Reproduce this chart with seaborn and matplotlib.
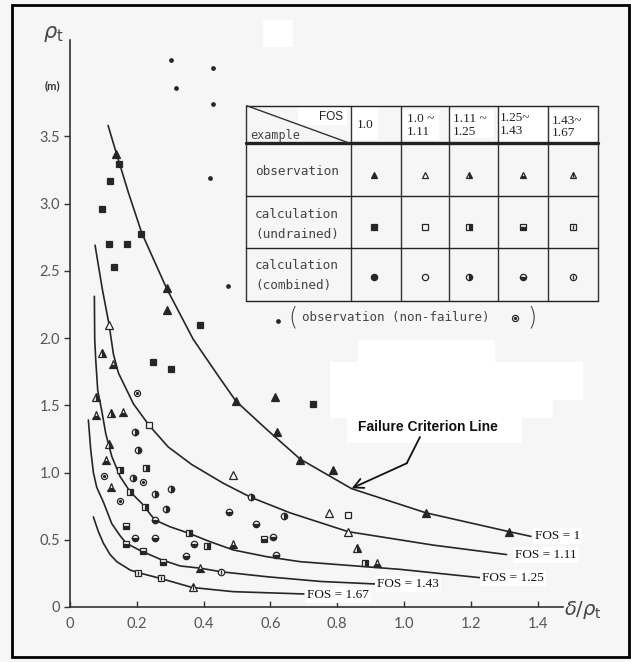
import matplotlib
matplotlib.use("Agg")
import matplotlib.pyplot as plt
import matplotlib.patches as mpatches
import seaborn as sns
import pandas as pd

# ---- curves of constant FOS ----
fos_names = ["FOS = 1", "FOS = 1.11", "FOS = 1.25", "FOS = 1.43", "FOS = 1.67"]

fos1_x = [0.114, 0.138, 0.175, 0.215, 0.289, 0.369, 0.449, 0.497, 0.589, 0.689, 0.843, 1.066, 1.315, 1.38]
fos1_y = [3.58, 3.38, 3.08, 2.78, 2.37, 1.99, 1.70, 1.53, 1.32, 1.10, 0.88, 0.70, 0.56, 0.525]

fos111_x = [0.075, 0.097, 0.117, 0.130, 0.145, 0.19, 0.237, 0.294, 0.364, 0.459, 0.541, 0.659, 0.833, 1.088, 1.307]
fos111_y = [2.69, 2.36, 2.10, 1.88, 1.74, 1.51, 1.35, 1.19, 1.06, 0.92, 0.816, 0.70, 0.56, 0.46, 0.39]

fos125_x = [0.073, 0.074, 0.077, 0.083, 0.095, 0.107, 0.125, 0.15, 0.18, 0.215, 0.254, 0.299, 0.356, 0.419, 0.489, 0.589, 0.689, 0.988, 1.228]
fos125_y = [2.31, 1.99, 1.84, 1.61, 1.46, 1.29, 1.12, 0.97, 0.857, 0.77, 0.647, 0.597, 0.548, 0.486, 0.424, 0.374, 0.337, 0.28, 0.218]

fos143_x = [0.055, 0.062, 0.07, 0.08, 0.10, 0.125, 0.15, 0.168, 0.21, 0.275, 0.33, 0.392, 0.452, 0.59, 0.75, 0.916]
fos143_y = [1.39, 1.17, 1.00, 0.89, 0.78, 0.62, 0.53, 0.475, 0.42, 0.35, 0.305, 0.288, 0.262, 0.225, 0.19, 0.171]

fos167_x = [0.07, 0.085, 0.10, 0.12, 0.14, 0.18, 0.205, 0.27, 0.366, 0.489, 0.70]
fos167_y = [0.67, 0.56, 0.474, 0.39, 0.337, 0.275, 0.255, 0.213, 0.145, 0.114, 0.097]

# label anchor (left end of text) for each curve
label_x = [1.392, 1.332, 1.234, 0.919, 0.710]
label_y = [0.53, 0.387, 0.216, 0.171, 0.089]

# ---- data points ----
# FOS = 1.0
obs_10_x = [0.138, 0.289, 0.289, 0.496, 0.614, 0.619, 0.689, 0.788, 1.066, 1.315]
obs_10_y = [3.37, 2.37, 2.21, 1.53, 1.56, 1.30, 1.09, 1.02, 0.70, 0.56]
und_10_x = [0.147, 0.120, 0.097, 0.213, 0.117, 0.170, 0.133, 0.389, 0.249, 0.302, 0.727]
und_10_y = [3.29, 3.17, 2.96, 2.77, 2.70, 2.70, 2.53, 2.10, 1.82, 1.77, 1.51]
# FOS 1.0 ~ 1.11
obs_111_x = [0.117, 0.489, 0.776, 0.833]
obs_111_y = [2.10, 0.98, 0.70, 0.56]
und_111_x = [0.237, 0.833]
und_111_y = [1.35, 0.684]
# FOS 1.11 ~ 1.25
obs_125_x = [0.095, 0.078, 0.123, 0.116, 0.86]
obs_125_y = [1.89, 1.56, 1.44, 1.21, 0.436]
und_125_x = [0.150, 0.228, 0.180, 0.225, 0.356, 0.409, 0.883]
und_125_y = [1.02, 1.03, 0.857, 0.74, 0.548, 0.456, 0.33]
com_125_x = [0.195, 0.205, 0.190, 0.302, 0.254, 0.286, 0.541, 0.641]
com_125_y = [1.30, 1.17, 0.957, 0.88, 0.84, 0.73, 0.815, 0.677]
# FOS 1.25 ~ 1.43
obs_143_x = [0.130, 0.078, 0.158, 0.108, 0.123, 0.489, 0.389, 0.92]
obs_143_y = [1.81, 1.43, 1.45, 1.09, 0.89, 0.47, 0.29, 0.33]
und_143_x = [0.168, 0.167, 0.219, 0.279, 0.581]
und_143_y = [0.60, 0.47, 0.42, 0.337, 0.503]
com_143_x = [0.254, 0.195, 0.254, 0.372, 0.346, 0.477, 0.557, 0.609, 0.617]
com_143_y = [0.647, 0.51, 0.51, 0.466, 0.38, 0.71, 0.615, 0.52, 0.387]
# FOS 1.43 ~ 1.67
obs_167_x = [0.367]
obs_167_y = [0.146]
und_167_x = [0.205, 0.272]
und_167_y = [0.255, 0.213]
com_167_x = [0.451]
com_167_y = [0.262]
# non-failure observations
nf_dot_x = [0.301, 0.429, 0.316, 0.429, 0.419, 0.472]
nf_dot_y = [4.07, 4.01, 3.86, 3.74, 3.19, 2.39]
nf_circ_x = [0.202, 0.103, 0.218, 0.150]
nf_circ_y = [1.59, 0.976, 0.927, 0.788]

# table text
fos_headers = ["1.0", "1.0 ~\n1.11", "1.11 ~\n1.25", "1.25~\n1.43", "1.43~\n1.67"]
row_names = ["observation", "calculation\n(undrained)", "calculation\n(combined)"]

BG = "#f6f6f6"
INK = "#262626"
W, H = 631, 662

sns.set_style("ticks")
plt.rcParams["font.family"] = ["Lato", "DejaVu Sans"]

fig = plt.figure(figsize=(W / 100, H / 100), dpi=100)
fig.patch.set_facecolor(BG)

# background layer: erased (white) patches of the scan
bg = fig.add_axes([0, 0, 1, 1], zorder=0)
bg.set_xlim(0, W)
bg.set_ylim(H, 0)
bg.axis("off")
for (x0, y0, x1, y1) in [(263, 20, 293, 47), (358, 340, 495, 362), (330, 362, 583, 400),
                         (330, 400, 553, 418), (347, 418, 522, 443)]:
    bg.add_patch(mpatches.Rectangle((x0, y0), x1 - x0, y1 - y0, color="white", lw=0))

# main axes
ax = fig.add_axes([70 / W, (H - 607) / H, 493 / W, 567 / H], zorder=1)
ax.patch.set_alpha(0)
ax.set_xlim(0, 493 / 334)
ax.set_ylim(0, 567 / 134.5)

curves = pd.DataFrame({
    "x": fos1_x + fos111_x + fos125_x + fos143_x + fos167_x,
    "y": fos1_y + fos111_y + fos125_y + fos143_y + fos167_y,
    "curve": ([fos_names[0]] * len(fos1_x) + [fos_names[1]] * len(fos111_x)
              + [fos_names[2]] * len(fos125_x) + [fos_names[3]] * len(fos143_x)
              + [fos_names[4]] * len(fos167_x)),
})
sns.lineplot(data=curves, x="x", y="y", units="curve", estimator=None, sort=False,
             color=INK, lw=1.2, ax=ax, legend=False)

for name, lx, ly in zip(fos_names, label_x, label_y):
    ax.text(lx, ly, name, family="Liberation Serif", fontsize=9.5, color="#111",
            ha="left", va="center",
            bbox=dict(facecolor="white", edgecolor="none", pad=1.5), zorder=4)


def draw(axis, xs, ys, shape, fill, ms=None):
    size = {"^": 5.2, "s": 4.3, "o": 4.6}[shape] if ms is None else ms
    kw = dict(ls="none", marker=shape, ms=size, mec=INK, mew=0.9, zorder=5)
    if fill == "full":
        axis.plot(xs, ys, mfc=INK, **kw)
    elif fill == "none":
        axis.plot(xs, ys, mfc=BG, **kw)
    elif fill in ("right", "bottom"):
        axis.plot(xs, ys, mfc=INK, fillstyle=fill, markerfacecoloralt=BG, **kw)
    elif fill == "line":
        axis.plot(xs, ys, mfc=BG, **kw)
        axis.plot(xs, ys, ls="none", marker="|", ms=size * 0.75, mec=INK, mew=0.9, zorder=6)
    elif fill == "dot":
        axis.plot(xs, ys, mfc=BG, **kw)
        axis.plot(xs, ys, ls="none", marker=".", ms=2.6, mec=INK, mfc=INK, zorder=6)


draw(ax, obs_10_x, obs_10_y, "^", "full")
draw(ax, und_10_x, und_10_y, "s", "full")
draw(ax, obs_111_x, obs_111_y, "^", "none")
draw(ax, und_111_x, und_111_y, "s", "none")
draw(ax, obs_125_x, obs_125_y, "^", "right")
draw(ax, und_125_x, und_125_y, "s", "right")
draw(ax, com_125_x, com_125_y, "o", "right")
draw(ax, obs_143_x, obs_143_y, "^", "bottom")
draw(ax, und_143_x, und_143_y, "s", "bottom")
draw(ax, com_143_x, com_143_y, "o", "bottom")
draw(ax, obs_167_x, obs_167_y, "^", "line")
draw(ax, und_167_x, und_167_y, "s", "line")
draw(ax, com_167_x, com_167_y, "o", "line")
draw(ax, nf_circ_x, nf_circ_y, "o", "dot", ms=4.4)
ax.plot(nf_dot_x, nf_dot_y, ls="none", marker="o", ms=2.4, mfc=INK, mec=INK, zorder=5)

ax.set_xticks([0, 0.2, 0.4, 0.6, 0.8, 1.0, 1.2, 1.4])
ax.set_xticklabels(["0", "0.2", "0.4", "0.6", "0.8", "1.0", "1.2", "1.4"])
ax.set_yticks([0, 0.5, 1.0, 1.5, 2.0, 2.5, 3.0, 3.5])
ax.set_yticklabels(["0", "0.5", "1.0", "1.5", "2.0", "2.5", "3.0", "3.5"])
ax.tick_params(axis="x", direction="in", length=4, width=1, colors="#333",
               labelsize=10.5, labelcolor="#555", pad=7)
ax.tick_params(axis="y", direction="out", length=4, width=1, colors="#333",
               labelsize=10.5, labelcolor="#555", pad=3)
ax.set_xlabel("")
ax.set_ylabel("")
for side in ["top", "right"]:
    ax.spines[side].set_visible(False)
for side in ["left", "bottom"]:
    ax.spines[side].set_color("#333")
    ax.spines[side].set_linewidth(1.2)

# overlay in pixel coordinates: axis titles, table, annotation, frame
ov = fig.add_axes([0, 0, 1, 1], zorder=2)
ov.patch.set_alpha(0)
ov.set_xlim(0, W)
ov.set_ylim(H, 0)
ov.axis("off")

ov.text(53, 34, r"$\rho_{\rm t}$", fontsize=15, color="#444", ha="center", va="center",
        family="DejaVu Sans")
ov.text(52, 86, "(m)", fontsize=8, color="#333", ha="center", va="center", weight="bold")
ov.text(583, 610, r"$\delta/\rho_{\rm t}$", fontsize=14, color="#444", ha="center", va="center",
        family="DejaVu Sans")

# table
col_edges = [246, 350.7, 400.7, 449, 497.7, 547.7, 598.3]
row_edges = [105.7, 143.3, 196, 248.3, 300.7]
for (x0, y0, x1, y1) in [(298, 107, 347, 125), (352, 107, 378, 140), (402, 110, 439, 140),
                         (450, 110, 494, 138), (498, 107, 547, 142), (550, 110, 597, 142)]:
    ov.add_patch(mpatches.Rectangle((x0, y0), x1 - x0, y1 - y0, color="white", lw=0, zorder=1))
for cx in col_edges:
    ov.plot([cx, cx], [row_edges[0], row_edges[-1]], color="#333", lw=1.0, zorder=2)
for i, ry in enumerate(row_edges):
    ov.plot([col_edges[0], col_edges[-1]], [ry, ry], color="#222",
            lw=2.4 if i == 1 else 1.0, zorder=2)
ov.plot([246.7, 348.3], [105.7, 142.7], color="#333", lw=1.0, zorder=2)

ov.text(343, 117, "FOS", fontsize=8.5, color="#222", ha="right", va="center",
        family="Liberation Sans")
ov.text(250, 136, "example", fontsize=8.5, color="#444", ha="left", va="center",
        family="DejaVu Sans Mono")
row_label_y = [171.7, 224.5, 275.5]
for name, ry in zip(row_names, row_label_y):
    ov.text(255, ry, name, fontsize=9.2, color="#444", ha="left", va="center",
            family="DejaVu Sans Mono", linespacing=1.7)
head_x = [357, 406.7, 452.7, 500, 551.7]
head_y = [125, 125.5, 125.5, 124.5, 127]
for txt, hx, hy in zip(fos_headers, head_x, head_y):
    ov.text(hx, hy, txt, fontsize=9.5, color="#222", ha="left", va="center",
            family="Liberation Serif", linespacing=1.05)

mark_x = [374, 425, 469.3, 523.3, 573.3]
row_y = [175, 226.7, 276.7]
fills = ["full", "none", "right", "bottom", "line"]
for mx, f in zip(mark_x, fills):
    draw(ov, [mx], [row_y[0]], "^", f, ms=5)
    draw(ov, [mx], [row_y[1]], "s", f, ms=4.3)
    draw(ov, [mx], [row_y[2]], "o", f, ms=4.5)

# non-failure legend line
ov.plot([278.3], [321], ls="none", marker="o", ms=2.4, mfc=INK, mec=INK)
ov.text(293, 318, "(", fontsize=17, color="#333", ha="center", va="center",
        family="DejaVu Sans", weight="light")
ov.text(301.7, 318, "observation (non-failure)", fontsize=9, color="#444", ha="left",
        va="center", family="DejaVu Sans Mono")
draw(ov, [515], [317.7], "o", "dot", ms=4.4)
ov.text(531.7, 318, ")", fontsize=17, color="#333", ha="center", va="center",
        family="DejaVu Sans", weight="light")

# failure criterion callout
ov.text(428, 427, "Failure Criterion Line", fontsize=10, weight="bold", color="#111",
        ha="center", va="center", family="Liberation Sans")
ov.plot([420, 406.7], [437, 463.3], color="#111", lw=1.3)
ov.annotate("", xy=(351.7, 488.3), xytext=(406.7, 463.3),
            arrowprops=dict(arrowstyle="->,head_length=0.7,head_width=0.35",
                            color="#111", lw=1.3, shrinkA=0, shrinkB=0))

# outer frame of the scan
ov.add_patch(mpatches.Rectangle((12, 5), 617, 652, fill=False, ec="black", lw=2))

fig.savefig("out.png", dpi=100, facecolor=fig.get_facecolor())
